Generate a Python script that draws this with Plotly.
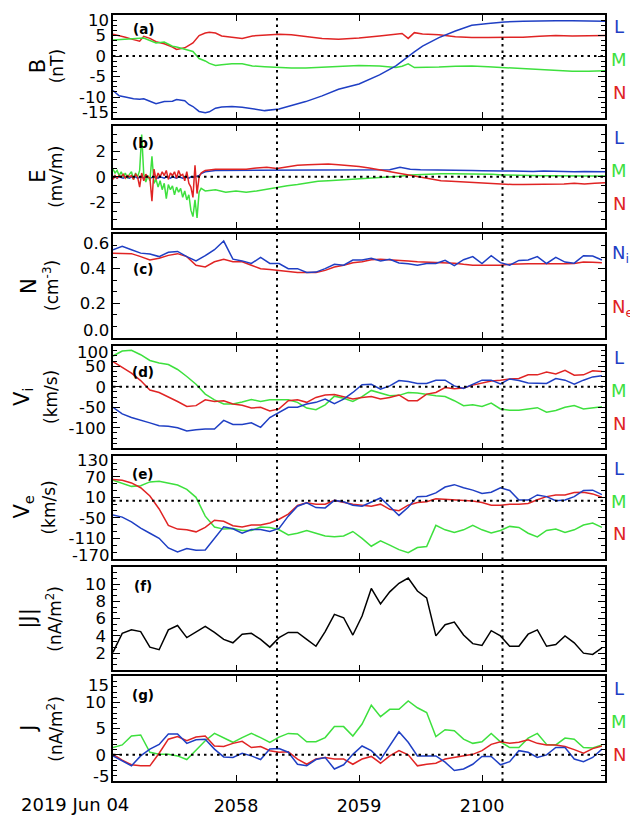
import pandas as pd
import plotly.graph_objects as go
from plotly.subplots import make_subplots

# ---------------- data ----------------
T0 = pd.Timestamp("2019-06-04 20:57:00")
DATE_LABEL = "2019 Jun 04"
XTICKS_SEC = [60, 120, 180]
XTICK_TEXT = ["2058", "2059", "2100"]
VLINES_SEC = [80, 190]

# (a) magnetic field, seconds after 20:57:00
tB = [0, 3, 6, 10, 13, 15, 18, 21, 25, 29, 31, 35, 37, 39, 42, 45, 47, 50, 53, 58,
      63, 68, 74, 81, 87, 94, 102, 110, 120, 130, 138, 141, 144, 147, 151, 159, 167,
      175, 183, 191, 200, 208, 216, 224, 232, 240]
B_L = [-8.4, -9.7, -10.0, -10.4, -10.5, -10.4, -11.0, -11.6, -11.1, -11.0, -10.6, -10.9,
       -11.8, -12.3, -13.5, -13.8, -13.6, -12.7, -12.4, -12.3, -12.5, -12.9, -13.3, -12.9,
       -12.1, -11.1, -9.7, -8.1, -6.8, -4.6, -2.4, -1.2, -0.2, 1.0, 2.4, 4.5, 6.1, 7.5,
       7.9, 8.3, 8.5, 8.6, 8.6, 8.6, 8.6, 8.5]
B_M = [3.9, 4.0, 4.0, 4.2, 4.3, 4.4, 3.8, 3.2, 3.4, 2.4, 2.2, 1.6, 1.4, 1.1, -0.6, -1.2,
       -1.8, -2.3, -2.1, -1.9, -1.9, -2.4, -2.6, -2.8, -2.9, -2.9, -2.7, -2.4, -2.3, -2.4,
       -2.8, -2.5, -1.9, -2.8, -2.8, -2.7, -2.5, -2.4, -2.6, -2.8, -3.0, -3.3, -3.5, -3.7,
       -3.7, -3.6]
B_N = [5.3, 5.0, 4.6, 4.0, 3.6, 4.8, 4.3, 3.5, 3.0, 2.2, 1.6, 2.0, 2.6, 3.2, 5.0, 5.6,
       5.8, 5.6, 4.9, 4.6, 4.3, 4.9, 5.1, 5.3, 5.2, 4.8, 4.3, 4.1, 4.4, 4.9, 5.3, 5.5,
       4.3, 5.7, 5.4, 5.2, 4.7, 4.5, 4.5, 4.5, 4.6, 4.8, 5.0, 4.9, 5.0, 5.0]

# (b) electric field
tE = list(range(0, 46)) + list(range(50, 241, 5))
E_L = [-0.10, 0.00, -0.10, 0.00, -0.05, -0.10, 0.00, -0.05, -0.10, 0.00, -0.05, 0.00,
       -0.10, -0.05, 0.00, -0.10, -0.05, 0.00, -0.10, -0.05, 0.00, -0.05, -0.10, 0.00,
       -0.05, -0.10, 0.00, -0.05, -0.10, 0.00, -0.05, -0.10, 0.00, -0.05, -0.10, 0.00,
       -0.05, -0.10, 0.00, -0.05, 0.00, 0.05, 0.10, 0.25, 0.35, 0.40,
       0.50, 0.50, 0.52, 0.50, 0.52, 0.55, 0.52, 0.50, 0.52, 0.55, 0.52, 0.55, 0.53,
       0.55, 0.55, 0.52, 0.55, 0.55, 0.75, 0.60, 0.55, 0.55, 0.52, 0.50, 0.50, 0.50,
       0.48, 0.45, 0.45, 0.45, 0.42, 0.42, 0.45, 0.42, 0.42, 0.40, 0.42, 0.40, 0.40]
E_M = [0.6, 0.3, 0.5, 0.1, 0.4, 0.0, 0.3, -0.1, 0.2, 0.4, -0.2, 0.3, 0.0, 0.5, 3.3, 0.2,
       -0.4, 0.1, -0.3, 1.6, -0.5, -0.2, -0.8, -0.3, -1.0, -0.5, -1.7, -0.6, -1.0, -0.7,
       -1.4, -0.8, -1.2, -0.9, -1.6, -1.1, -1.8, -1.4, -2.6, -3.1, -1.8, -3.2, -1.2, -0.9,
       -1.0, -1.1,
       -1.0, -1.2, -1.1, -1.2, -1.1, -0.95, -0.85, -0.7, -0.6, -0.45, -0.35, -0.3, -0.25,
       -0.2, -0.15, -0.12, -0.05, 0.0, 0.05, 0.15, 0.2, 0.2, 0.25, 0.25, 0.25, 0.25,
       0.22, 0.2, 0.15, 0.12, 0.1, 0.1, 0.08, 0.08, 0.06, 0.06, 0.06, 0.06, 0.06]
E_N = [-0.2, 0.1, -0.1, 0.1, 0.0, 0.2, -0.1, 0.1, 0.0, 0.1, -0.2, 0.2, 0.0, -0.8, 0.3,
       -0.3, 0.2, 0.0, -0.1, -1.9, 0.6, -0.2, 0.3, 0.0, 0.4, 0.1, 0.5, -0.2, 0.3, 0.1, 0.4,
       -0.1, 0.5, 0.1, 0.2, -0.3, 0.4, -0.5, -0.8, -1.6, 0.9, -1.3, 0.0, 0.3, 0.4, 0.5,
       0.6, 0.6, 0.65, 0.6, 0.7, 0.75, 0.65, 0.8, 0.9, 0.95, 1.0, 1.0, 0.95, 0.9, 0.8,
       0.7, 0.55, 0.4, 0.25, 0.1, 0.0, -0.15, -0.3, -0.35, -0.4, -0.45, -0.45, -0.5,
       -0.55, -0.6, -0.6, -0.6, -0.55, -0.55, -0.55, -0.5, -0.55, -0.5, -0.45]

# (c)-(g) plasma moments and currents, 4.5 s cadence
tP = [4.5 * i for i in range(54)]
N_i = [0.51, 0.53, 0.51, 0.49, 0.485, 0.47, 0.495, 0.50, 0.47, 0.445, 0.475, 0.51,
       0.56, 0.455, 0.445, 0.43, 0.465, 0.43, 0.43, 0.40, 0.40, 0.378, 0.38, 0.40,
       0.425, 0.42, 0.45, 0.45, 0.46, 0.445, 0.455, 0.433, 0.428, 0.42, 0.43, 0.43,
       0.448, 0.418, 0.452, 0.47, 0.43, 0.475, 0.435, 0.42, 0.448, 0.45, 0.47, 0.43,
       0.465, 0.438, 0.432, 0.475, 0.473, 0.45]
N_e = [0.49, 0.49, 0.487, 0.47, 0.45, 0.46, 0.477, 0.487, 0.47, 0.42, 0.41, 0.44,
       0.454, 0.44, 0.44, 0.42, 0.40, 0.395, 0.387, 0.383, 0.378, 0.377, 0.378, 0.39,
       0.41, 0.42, 0.434, 0.44, 0.452, 0.454, 0.452, 0.448, 0.445, 0.44, 0.438, 0.434,
       0.432, 0.432, 0.425, 0.42, 0.42, 0.42, 0.42, 0.425, 0.428, 0.429, 0.428, 0.427,
       0.425, 0.428, 0.43, 0.438, 0.437, 0.435]
Vi_L = [-50, -66, -75, -81, -88, -95, -96, -100, -108, -105, -103, -103, -82, -92, -92,
        -88, -99, -75, -62, -50, -50, -42, -38, -30, -41, -30, -14, 5, 6, -6, 2, 15, 13,
        8, 8, 16, 16, 2, -4, 6, 16, 16, 7, 19, 15, 9, 8, 8, 20, 16, 6, 16, 24, 27]
Vi_M = [75, 87, 89, 78, 64, 58, 54, 42, 25, 6, -18, -32, -42, -42, -37, -31, -36, -32,
        -32, -32, -38, -52, -56, -44, -23, -28, -36, -24, -9, -16, -22, -21, -14, -15,
        -19, -22, -24, -34, -46, -44, -48, -40, -54, -57, -57, -54, -51, -62, -58, -50,
        -46, -54, -52, -49]
Vi_N = [61, 47, 33, 15, -8, -14, -24, -36, -48, -46, -32, -36, -34, -42, -45, -52, -50,
        -59, -54, -34, -32, -38, -26, -20, -19, -24, -30, -26, -24, -30, -26, -20, -34,
        -34, -18, -14, -2, -5, -3, 4, 9, 14, 16, 19, 20, 29, 29, 36, 31, 40, 28, 29, 39, 37]
Ve_L = [-42, -48, -62, -80, -95, -110, -138, -150, -140, -145, -144, -110, -76, -82,
        -95, -84, -84, -90, -81, -45, -16, -6, -20, -21, 1, -3, -13, -16, -3, 8, -17, -43,
        -19, 12, 13, 23, 40, 47, 38, 31, 21, 25, 38, 30, 2, 2, 17, 12, 0, 2, 12, 30, 31, 18]
Ve_M = [60, 51, 42, 44, 55, 57, 52, 46, 33, 10, -45, -77, -83, -81, -87, -87, -77, -78,
        -85, -100, -95, -87, -95, -103, -105, -103, -90, -110, -133, -117, -130, -143,
        -152, -137, -134, -72, -85, -93, -85, -72, -85, -94, -87, -75, -78, -95, -106,
        -87, -83, -93, -85, -71, -65, -78]
Ve_N = [62, 60, 52, 38, 14, -24, -72, -83, -85, -91, -78, -57, -60, -73, -77, -71, -71,
        -65, -54, -39, -14, -6, -10, -10, 1, -5, -10, -13, -16, -10, -25, -29, -13, -5,
        -3, 6, 4, 4, 2, -1, -5, -13, -13, -10, -10, -8, 3, 12, 17, 17, 24, 25, 20, 10]
J_abs = [2.1, 4.3, 4.7, 4.5, 2.7, 2.4, 4.7, 5.2, 3.8, 4.5, 5.1, 4.4, 3.6, 3.2, 4.2, 4.3,
         3.6, 2.7, 3.8, 4.4, 4.4, 3.6, 2.8, 4.5, 6.5, 6.1, 4.1, 6.3, 9.5, 7.7, 9.1, 10.1,
         10.7, 9.2, 8.4, 4.0, 5.3, 5.6, 4.1, 3.1, 2.9, 4.6, 4.0, 2.8, 2.8, 4.2, 4.7, 2.8,
         3.0, 4.0, 3.2, 2.0, 1.85, 2.6]
J_L = [-0.2, -1.2, -2.1, -0.2, 1.1, 2.0, 4.0, 4.0, 2.2, 2.9, 3.0, 1.1, -0.4, -0.5, 0.3,
       -0.2, -0.9, 1.1, 1.2, 0.5, -1.8, -2.1, -0.9, -0.5, -2.7, -1.9, 0.1, 1.7, 0.8, -0.9,
       1.7, 4.4, 2.4, -0.2, -0.2, -0.2, -1.4, -3.0, -2.7, -1.8, -0.3, -0.3, -1.9, -1.3,
       0.8, 0.5, -0.5, 0.0, 1.4, 1.4, -0.8, -1.3, -0.5, 1.1]
J_M = [1.4, 1.9, 3.6, 3.8, 0.5, 0.1, 0.1, -0.2, -0.9, 0.8, 2.7, 4.1, 3.3, 2.4, 3.3, 4.1,
       3.3, 2.4, 3.4, 4.1, 4.0, 2.5, 2.5, 3.3, 5.4, 5.4, 3.6, 5.9, 9.5, 7.3, 8.7, 8.7,
       10.3, 9.0, 8.1, 3.5, 4.8, 4.6, 3.0, 2.2, 2.5, 4.1, 2.5, 1.4, 1.4, 3.2, 4.1, 2.0,
       1.9, 3.2, 3.0, 1.4, 1.3, 1.9]
J_N = [0.1, -1.0, -1.9, -2.1, -2.1, 0.3, 3.0, 3.5, 2.7, 3.4, 3.6, 1.7, 1.6, 2.2, 2.6,
       1.4, 1.6, 0.8, 0.5, 0.6, -0.8, -1.8, -0.8, -0.5, -0.8, -0.8, -1.8, -0.8, -0.3,
       -1.6, -0.2, 0.8, 0.0, -2.1, -1.8, -1.6, -0.8, -0.5, -0.3, 0.1, 0.8, 2.0, 2.5, 2.2,
       2.4, 2.9, 2.2, 1.9, 1.9, 1.6, 1.0, 0.3, 1.2, 1.7]

# y-axis ticks per panel
Y_RANGES = [[-15, 10], [-4, 4], [0, 0.6], [-150, 100], [-170, 130], [0, 12], [-5, 15]]
Y_TICKS = [[-15, -10, -5, 0, 5, 10], [-2, 0, 2], [0, 0.2, 0.4, 0.6], [-100, -50, 0, 50, 100],
           [-170, -110, -50, 10, 70, 130], [2, 4, 6, 8, 10], [-5, 0, 5, 10, 15]]
Y_TICKTEXT = [["-15", "-10", "-5", "0", "5", "10"], ["-2", "0", "2"],
              ["0.0", "0.2", "0.4", "0.6"], ["-100", "-50", "0", "50", "100"],
              ["-170", "-110", "-50", "10", "70", "130"], ["2", "4", "6", "8", "10"],
              ["-5", "0", "5", "10", "15"]]
Y_MINOR = [1.25, 2 / 3, 0.2 / 3, 12.5, 20, 2 / 3, 1]

# ---------------- styling ----------------
BLUE = "#1f3fc4"
GREEN = "#3ee03e"
RED = "#e02424"
BLACK = "#000000"
FONT = "DejaVu Sans"
TICK_SIZE = 16.5

# page geometry (the html body adds an 8 px margin around the figure)
PAGE_W, PAGE_H = 638, 821
OFF = 8
W, H = PAGE_W - OFF, PAGE_H - OFF
L_PX, R_PX = 113, 605
PANELS = [(13, 116), (124, 227), (233, 337), (345, 448), (456, 559), (567, 671), (677, 782)]
TOP, BOT = PANELS[0][0], PANELS[-1][1]
PH = BOT - TOP
# px by which labels at the panel edges are pulled inside the frame: (bottom, top)
EDGE_NUDGE = [(5, 6), (6, 6), (7, 9), (6, 7), (3, 4), (6, 6), (5, 9)]


def ts(sec):
    return T0 + pd.to_timedelta(sec, unit="s")


def py(ypx):
    return (BOT - ypx) / PH


def px(xpx):
    return (xpx - L_PX) / (R_PX - L_PX)


fig = make_subplots(rows=7, cols=1, shared_xaxes=True)
LW = 1.5


def add(row, t, y, color):
    fig.add_trace(go.Scatter(x=[ts(s) for s in t], y=y, mode="lines",
                             line=dict(color=color, width=LW), showlegend=False,
                             hoverinfo="skip"), row=row, col=1)


add(1, tB, B_N, RED); add(1, tB, B_M, GREEN); add(1, tB, B_L, BLUE)
add(2, tE, E_L, BLUE); add(2, tE, E_M, GREEN); add(2, tE, E_N, RED)
add(3, tP, N_e, RED); add(3, tP, N_i, BLUE)
add(4, tP, Vi_M, GREEN); add(4, tP, Vi_N, RED); add(4, tP, Vi_L, BLUE)
add(5, tP, Ve_M, GREEN); add(5, tP, Ve_N, RED); add(5, tP, Ve_L, BLUE)
add(6, tP, J_abs, BLACK)
add(7, tP, J_M, GREEN); add(7, tP, J_N, RED); add(7, tP, J_L, BLUE)

tickfont = dict(family=FONT, size=TICK_SIZE, color="black")
ann = []
for i, (top, bot) in enumerate(PANELS):
    r = i + 1
    lo, hi = Y_RANGES[i]
    texts = []
    for v, tx in zip(Y_TICKS[i], Y_TICKTEXT[i]):
        if v == lo or v == hi:
            texts.append("")
            ypix = bot - EDGE_NUDGE[i][0] if v == lo else top + EDGE_NUDGE[i][1]
            ann.append(dict(text=tx, x=px(110), y=py(ypix), xref="paper", yref="paper",
                            showarrow=False, font=tickfont, xanchor="right",
                            yanchor="middle", borderpad=0))
        else:
            texts.append(tx)
    fig.update_yaxes(row=r, col=1, domain=[(BOT - bot) / PH, (BOT - top) / PH],
                     range=[lo, hi], tickvals=Y_TICKS[i], ticktext=texts, ticks="inside",
                     ticklen=7, tickwidth=1.3, tickcolor="black", mirror="allticks",
                     showline=True, linecolor="black", linewidth=1.6, showgrid=False,
                     zeroline=False, tickfont=tickfont, ticklabelstandoff=2,
                     minor=dict(ticks="inside", ticklen=4, tickwidth=1, tickcolor="black",
                                dtick=Y_MINOR[i], tick0=lo, showgrid=False))
    fig.update_xaxes(row=r, col=1, range=[ts(0), ts(240)],
                     tickvals=[ts(s_) for s_ in XTICKS_SEC], ticktext=XTICK_TEXT,
                     ticks="inside", ticklen=6, tickwidth=1.3, tickcolor="black",
                     mirror="allticks", showline=True, linecolor="black", linewidth=1.6,
                     showgrid=False, zeroline=False,
                     tickfont=dict(family=FONT, size=17.5, color="black"),
                     showticklabels=(r == 7), ticklabelstandoff=8)

DOT = dict(color="black", width=2, dash="2.5px,4px")
for r in [1, 2, 4, 5, 7]:
    fig.add_hline(y=0, row=r, col=1, line=DOT, layer="above")
for s_ in VLINES_SEC:
    fig.add_shape(type="line", xref="x7", yref="paper", x0=ts(s_), x1=ts(s_), y0=0, y1=1,
                  line=DOT, layer="above")

# y-axis titles: (symbol, unit, symbol x-center px, unit x-center px)
titles = [
    ("B", "(nT)", 38, 57), ("E", "(mv/m)", 38, 56),
    ("N", "(cm<sup>-3</sup>)", 29, 51), ("V<sub>i</sub>", "(km/s)", 23, 51),
    ("V<sub>e</sub>", "(km/s)", 23, 49), ("|J|", "(nA/m<sup>2</sup>)", 29, 54),
    ("J", "(nA/m<sup>2</sup>)", 29, 55),
]
for i, (l1, l2, x1, x2) in enumerate(titles):
    top, bot = PANELS[i]
    yc = (top + bot) / 2
    ann.append(dict(text=l1, x=px(x1), y=py(yc), xref="paper", yref="paper", textangle=-90,
                    showarrow=False, font=dict(family=FONT, size=21, color="black"),
                    xanchor="center", yanchor="middle"))
    ann.append(dict(text=l2, x=px(x2), y=py(yc), xref="paper", yref="paper", textangle=-90,
                    showarrow=False, font=dict(family=FONT, size=17, color="black"),
                    xanchor="center", yanchor="middle"))

letters = ["(a)", "(b)", "(c)", "(d)", "(e)", "(f)", "(g)"]
letter_off = [14, 18, 35, 26, 18, 19, 19]
for i, lt in enumerate(letters):
    top, bot = PANELS[i]
    ann.append(dict(text="<b>%s</b>" % lt, x=px(143), y=py(top + letter_off[i]), xref="paper",
                    yref="paper", showarrow=False,
                    font=dict(family=FONT, size=13.5, color="black"),
                    xanchor="center", yanchor="middle"))

LMN = [("L", BLUE, 12), ("M", GREEN, 45), ("N", RED, 78)]
for i in [0, 1, 3, 4, 6]:
    top, bot = PANELS[i]
    for txt, col, off in LMN:
        ann.append(dict(text=txt, x=px(619), y=py(top + off), xref="paper", yref="paper",
                        showarrow=False, font=dict(family=FONT, size=18, color=col),
                        xanchor="center", yanchor="middle"))
top, bot = PANELS[2]
ann.append(dict(text="N<sub>i</sub>", x=px(611), y=py(top + 20), xref="paper", yref="paper",
                showarrow=False, font=dict(family=FONT, size=18, color=BLUE),
                xanchor="left", yanchor="middle", borderpad=0))
ann.append(dict(text="N<sub>e</sub>", x=px(611), y=py(top + 74), xref="paper", yref="paper",
                showarrow=False, font=dict(family=FONT, size=18, color=RED),
                xanchor="left", yanchor="middle", borderpad=0))

ann.append(dict(text=DATE_LABEL, x=px(131), y=py(806), xref="paper", yref="paper",
                showarrow=False, font=dict(family=FONT, size=18, color="black"),
                xanchor="right", yanchor="middle"))

fig.update_layout(width=W, height=H,
                  margin=dict(l=L_PX - OFF, r=PAGE_W - R_PX, t=TOP - OFF, b=PAGE_H - BOT),
                  plot_bgcolor="white", paper_bgcolor="white", annotations=ann,
                  font=dict(family=FONT, color="black"), showlegend=False)

fig.write_html("out.html")
